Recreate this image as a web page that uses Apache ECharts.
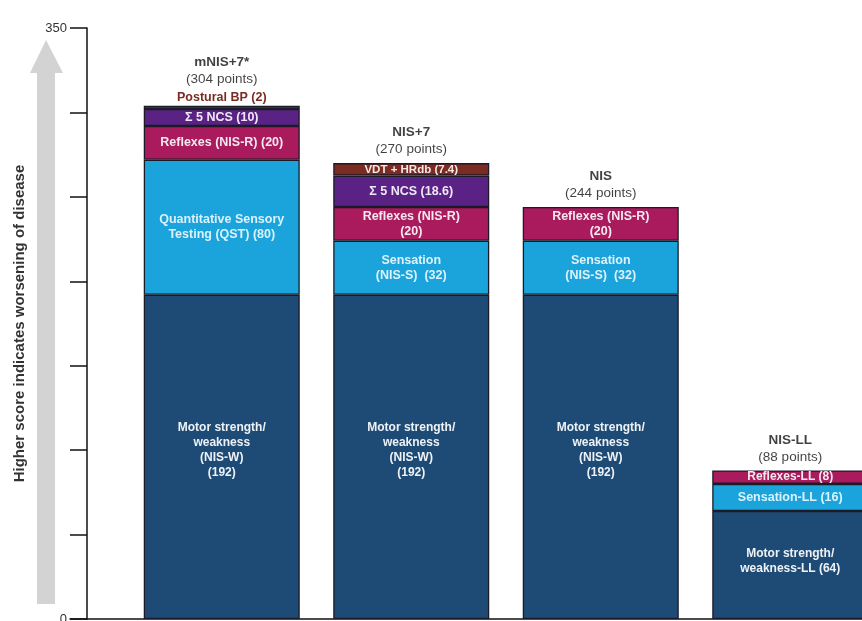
<!DOCTYPE html>
<html>
<head>
<meta charset="utf-8">
<script src="https://cdn.jsdelivr.net/npm/echarts@6/dist/echarts.min.js"></script>
<style>
  html, body { margin: 0; padding: 0; background: #ffffff; }
  #chart { width: 862px; height: 621px; }
</style>
</head>
<body>
<div id="chart"></div>
<script>
// Neuropathy impairment scores and their component sub-scores (points)
const scales = ['mNIS+7*', 'NIS+7', 'NIS', 'NIS-LL'];
const totals = [304, 270, 244, 88];
const motor = [192, 192, 192, 64];
const sensory = [80, 32, 32, 16];
const reflexes = [20, 20, 20, 8];
const nerveConduction = [10, 18.6, null, null];
const autonomic = [2, 7.4, null, null];

const motorText = [
  'Motor strength/\nweakness\n(NIS-W)\n(192)',
  'Motor strength/\nweakness\n(NIS-W)\n(192)',
  'Motor strength/\nweakness\n(NIS-W)\n(192)',
  'Motor strength/\nweakness-LL (64)'
];
const sensoryText = [
  'Quantitative Sensory\nTesting (QST) (80)',
  'Sensation\n(NIS-S)  (32)',
  'Sensation\n(NIS-S)  (32)',
  'Sensation-LL (16)'
];
const reflexText = [
  'Reflexes (NIS-R) (20)',
  'Reflexes (NIS-R)\n(20)',
  'Reflexes (NIS-R)\n(20)',
  'Reflexes-LL (8)'
];
const nerveConductionText = ['\u03A3 5 NCS (10)', '\u03A3 5 NCS (18.6)', null, null];
const autonomicText = ['Postural BP (2)', 'VDT + HRdb (7.4)', null, null];

const yLabelTicks = [0, 350];
const axisTitle = 'Higher score indicates worsening of disease';

const FONT = '"Liberation Sans", Arial, Helvetica, sans-serif';
const BORDER = '#1b1b27';
const AXIS = '#111111';

// one stacked layer of the bars
function layer(name, values, texts, color, textColor, labelFor) {
  return {
    name: name,
    type: 'bar',
    stack: 'score',
    barWidth: 156,
    itemStyle: { color: color, borderColor: BORDER, borderWidth: 1.3 },
    z: 2,
    data: values.map((v, i) => {
      if (v == null) return '-';
      return {
        value: v,
        label: Object.assign({
          show: true,
          position: 'inside',
          formatter: texts[i],
          color: textColor,
          fontFamily: FONT,
          fontWeight: 'bold',
          fontSize: 12.5,
          lineHeight: 15,
          align: 'center'
        }, labelFor ? labelFor(i) : {})
      };
    })
  };
}

const series = [
  layer('Motor', motor, motorText, '#1e4b75', '#eef2f6',
    i => ({ fontSize: 12, offset: [0, i === 3 ? -4 : -7] })),
  layer('Sensory', sensory, sensoryText, '#1ba3dc', '#dcf2fb'),
  layer('Reflexes', reflexes, reflexText, '#aa1b5d', '#f6e8ef',
    i => (i === 3 ? { fontSize: 12, lineHeight: 13 } : {})),
  layer('Nerve conduction', nerveConduction, nerveConductionText, '#5a2285', '#efe8f6'),
  layer('Autonomic', autonomic, autonomicText, '#7c2b23', '#f5e9e6',
    i => (i === 0
      ? { position: 'top', distance: 1, color: '#7c2b23' }
      : { fontSize: 11.5, lineHeight: 12 })),
  {
    name: 'Total',
    type: 'scatter',
    symbolSize: 0,
    silent: true,
    z: 5,
    data: totals.map((t, i) => ({
      value: t,
      label: {
        show: true,
        position: 'top',
        distance: i === 0 ? 18 : 5,
        formatter: '{n|' + scales[i] + '}\n{p|(' + t + ' points)}',
        rich: {
          n: { fontFamily: FONT, fontWeight: 'bold', fontSize: 13.5, color: '#111111', lineHeight: 17, align: 'center' },
          p: { fontFamily: FONT, fontSize: 13.5, color: '#111111', lineHeight: 17, align: 'center' }
        }
      }
    }))
  }
];

const chart = echarts.init(document.getElementById('chart'), null, { renderer: 'canvas' });
chart.setOption({
  backgroundColor: '#ffffff',
  animation: false,
  grid: [
    // plotting area for the bars
    { left: 127, width: 758, top: 28, bottom: 2, outerBoundsMode: 'none', containLabel: false },
    // full-width baseline running under the value axis
    { left: 70, right: 0, top: 28, bottom: 2, outerBoundsMode: 'none', containLabel: false }
  ],
  graphic: [
    {
      type: 'polygon',
      z: -1,
      shape: {
        points: [[46, 40], [63, 73], [55, 73], [55, 604], [37, 604], [37, 73], [30, 73]]
      },
      style: { fill: '#d3d3d3' }
    }
  ],
  xAxis: [
    {
      type: 'category',
      gridIndex: 0,
      data: scales,
      axisLine: { show: false },
      axisTick: { show: false },
      axisLabel: { show: false },
      splitLine: { show: false }
    },
    {
      type: 'value',
      gridIndex: 1,
      axisLine: { show: true, lineStyle: { color: AXIS, width: 1.5 } },
      axisTick: { show: false },
      axisLabel: { show: false },
      splitLine: { show: false }
    }
  ],
  yAxis: [
    {
      type: 'value',
      gridIndex: 0,
      min: 0,
      max: 350,
      interval: 50,
      offset: 40,
      name: axisTitle,
      nameLocation: 'middle',
      nameRotate: 90,
      nameGap: 60,
      nameTextStyle: { fontFamily: FONT, fontWeight: 'bold', fontSize: 15, color: '#333333' },
      axisLine: { show: true, lineStyle: { color: AXIS, width: 1.5 } },
      axisTick: { show: true, inside: false, length: 17, lineStyle: { color: AXIS, width: 1.5 } },
      axisLabel: {
        margin: 20,
        fontFamily: FONT,
        fontSize: 13,
        color: '#333333',
        formatter: v => (yLabelTicks.indexOf(v) >= 0 ? String(v) : '')
      },
      splitLine: { show: false }
    },
    {
      type: 'value',
      gridIndex: 1,
      show: false
    }
  ],
  series: series
});
</script>
</body>
</html>
